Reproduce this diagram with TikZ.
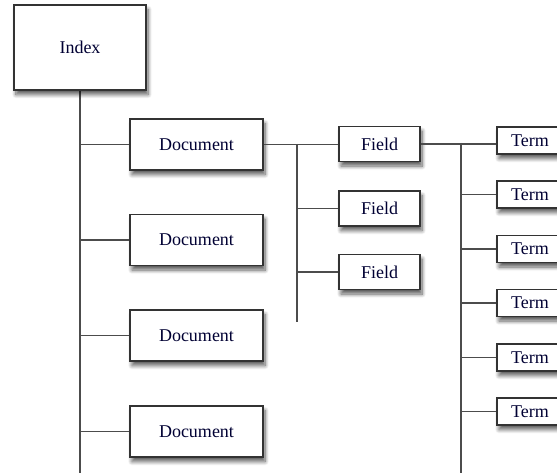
\documentclass[tikz,border=0pt]{standalone}
\usepackage{fontspec}
\setmainfont{Liberation Serif}
\usetikzlibrary{shadows.blur}
\begin{document}
\begin{tikzpicture}[x=1pt,y=-1pt,
  box/.style={draw=black!80, line width=1.6pt, fill=white, inner sep=0pt,
    font=\fontsize{18}{21}\selectfont, text=black!80!blue,
    blur shadow={shadow xshift=2pt, shadow yshift=-4.5pt, shadow blur radius=4pt,
      shadow blur steps=8, shadow opacity=65}},
  docbox/.style={box, minimum width=133pt, minimum height=51pt},
  fieldbox/.style={box, minimum width=81pt, minimum height=35pt},
  termbox/.style={box, minimum width=66pt, minimum height=27pt, text depth=0pt},
  link/.style={draw=black!70, line width=1.5pt}]
\useasboundingbox (0,0) rectangle (557,473);
\clip (0,0) rectangle (557,473);

% bus coordinates
\coordinate (trunkend) at (80,476);
\coordinate (fbustop) at (297,144);
\coordinate (fbusend) at (297,322);
\coordinate (tbustop) at (461,143);
\coordinate (tbusend) at (461,476);

% connectors
\draw[link] (80,90) -- (trunkend);
\draw[link] (fbustop) -- (fbusend);
\draw[link] (tbustop) -- (tbusend);

% nodes
\node[box, minimum width=132pt, minimum height=85pt] (index) at (80,47.5) {Index};
\node[docbox] (doc1) at (196.5,144.5) {Document};
\node[docbox] (doc2) at (196.5,240) {Document};
\node[docbox] (doc3) at (196.5,335.5) {Document};
\node[docbox] (doc4) at (196.5,431.5) {Document};
\node[fieldbox] (field1) at (379.5,144) {Field};
\node[fieldbox] (field2) at (379.5,208.5) {Field};
\node[fieldbox] (field3) at (379.5,272) {Field};
\node[termbox] (term1) at (530,140.5) {Term};
\node[termbox] (term2) at (530,194.5) {Term};
\node[termbox] (term3) at (530,249) {Term};
\node[termbox] (term4) at (530,303) {Term};
\node[termbox] (term5) at (530,357.5) {Term};
\node[termbox] (term6) at (530,411.5) {Term};

% branches off the trunk
\foreach \d in {doc1,doc2,doc3,doc4}
  \draw[link] (\d.west) -- (\d.west -| index.south);
\draw[link] (doc1.east) -- (doc1.east -| field1.west);
\foreach \f in {field2,field3}
  \draw[link] (\f.west) -- (\f.west -| fbustop);
\draw[link] (field1.east) -- (field1.east -| term1.west);
\foreach \t in {term2,term3,term4,term5,term6}
  \draw[link] (\t.west) -- (\t.west -| tbustop);
\end{tikzpicture}
\end{document}
